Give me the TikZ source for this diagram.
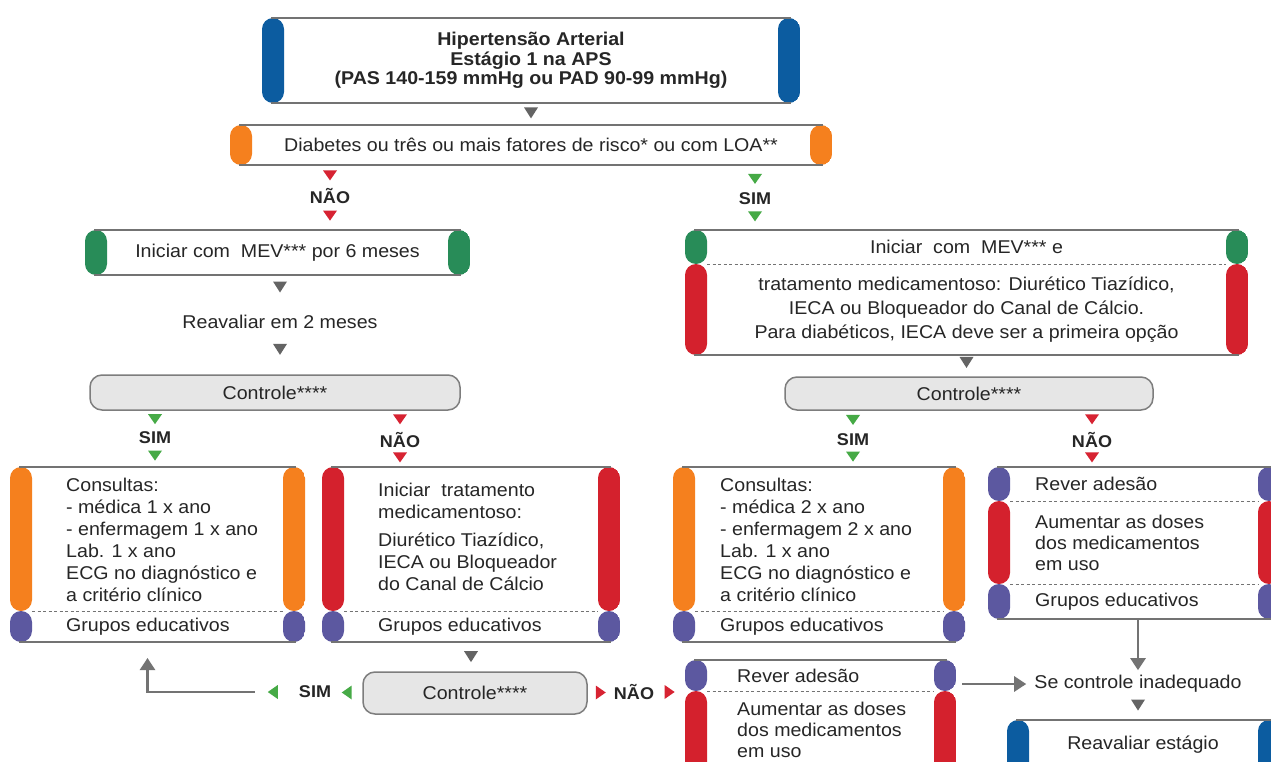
\documentclass[tikz,border=0pt]{standalone}
\usepackage{fontspec}
\setmainfont{Liberation Sans}[FakeStretch=1.06]
\usetikzlibrary{fit,arrows.meta,calc}

\definecolor{capBlue}{RGB}{12,92,160}
\definecolor{capOrange}{RGB}{245,128,30}
\definecolor{capGreen}{RGB}{40,140,88}
\definecolor{capRed}{RGB}{212,33,45}
\definecolor{capPurple}{RGB}{92,88,160}
\definecolor{triGreen}{RGB}{70,170,70}
\definecolor{triRed}{RGB}{215,35,50}
\definecolor{triGray}{RGB}{100,100,100}
\definecolor{rimC}{RGB}{115,115,115}
\definecolor{arrC}{RGB}{115,115,115}
\definecolor{ctlFill}{RGB}{230,230,230}
\definecolor{ctlLine}{RGB}{125,125,125}
\definecolor{txt}{RGB}{38,38,38}

\newcommand\fs{\fontsize{18.5}{22}\selectfont}
\newcommand\fsl{\fontsize{17}{19}\selectfont\bfseries}

% grey rim along the top of one segment and the bottom of another
\newcommand\rim[2]{%
  \draw[rimline] ([xshift=9pt]#1.north west) -- ([xshift=-9pt]#1.north east);
  \draw[rimline] ([xshift=9pt]#2.south west) -- ([xshift=-9pt]#2.south east);}
% dashed divider under a segment
\newcommand\divider[1]{%
  \draw[sepl] ([xshift=22pt]#1.south west) -- ([xshift=-22pt]#1.south east);}

\begin{document}
\begin{tikzpicture}[x=1pt,y=-1pt,
  seg/.style={rectangle, rounded corners=11pt, fill=white, inner sep=0pt,
    outer sep=0pt,
    path picture={
      \fill[#1] (path picture bounding box.south west) rectangle
        ([xshift=22pt]path picture bounding box.north west);
      \fill[#1] (path picture bounding box.south east) rectangle
        ([xshift=-22pt]path picture bounding box.north east);}},
  ctl/.style={rectangle, rounded corners=12pt, fill=ctlFill, draw=ctlLine,
    line width=1.5pt, inner sep=0pt},
  lab/.style={font=\fsl, text=txt, inner sep=0pt},
  body/.style={font=\fs, text=txt, inner sep=0pt, align=left, anchor=west},
  plain/.style={font=\fs, text=txt, inner sep=0pt, align=center},
  rimline/.style={draw=rimC, line width=1.8pt},
  sepl/.style={draw=rimC, line width=1pt, dash pattern=on 3pt off 2.5pt},
  garrow/.style={draw=arrC, line width=2.6pt, -{Triangle[width=15pt,length=12pt]}},
  gdown/.pic={\fill[triGray] (-7,-5.5) -- (7,-5.5) -- (0,5.5) -- cycle;},
  cdown/.pic={\fill[#1] (-7,-5) -- (7,-5) -- (0,5) -- cycle;},
  cleft/.pic={\fill[#1] (5,-7) -- (5,7) -- (-5,0) -- cycle;},
  cright/.pic={\fill[#1] (-5,-7) -- (-5,7) -- (5,0) -- cycle;},
]
\useasboundingbox (0,0) rectangle (1271,762);
\clip (0,0) rectangle (1271,762);
\fill[white] (0,0) rectangle (1271,762);

% ---------- boxes ----------
\node[seg=capBlue, fit={(262,18) (800,103)}] (top) {};
\node[plain, font=\fontsize{18.5}{19.5}\selectfont\bfseries] (topt) at (top.center)
  {Hipertensão Arterial\\Estágio 1 na APS\\(PAS 140-159 mmHg ou PAD 90-99 mmHg)};
\node[seg=capOrange, fit={(230,125) (832,165)}] (risk) {};
\node[plain] (riskt) at (risk.center)
  {Diabetes ou três ou mais fatores de risco* ou com LOA**};

\node[seg=capGreen, fit={(85,230) (470,275)}] (mev6) {};
\node[plain] (mev6t) at (mev6.center) {Iniciar com~ MEV*** por 6 meses};
\node[plain] (reav) at (280,322) {Reavaliar em 2 meses};
\node[ctl, fit={(90,375) (460,410)}] (ctl1) {};
\node[plain] (ctl1t) at (ctl1.center) {Controle****};

\node[seg=capGreen, fit={(685,230) (1248,264)}] (mevR1) {};
\node[plain] (mevR1t) at (mevR1.center) {Iniciar~ com~ MEV*** e};
\node[seg=capRed, fit={(685,264) (1248,355)}] (mevR2) {};
\node[plain, font=\fontsize{18.5}{24}\selectfont] (mevR2t) at (mevR2.center)
  {tratamento medicamentoso: Diurético Tiazídico,\\IECA ou Bloqueador do Canal de Cálcio.\\Para diabéticos, IECA deve ser a primeira opção};
\node[ctl, fit={(785,377) (1153,410)}] (ctl2) {};
\node[plain] (ctl2t) at (ctl2.center) {Controle****};

\node[seg=capOrange, fit={(10,467) (305,611)}] (consL1) {};
\node[seg=capPurple, fit={(10,611) (305,642)}] (consL2) {};
\node[body] (consLt) at (66,540)
  {Consultas:\\- médica 1 x ano\\- enfermagem 1 x ano\\Lab. 1 x ano\\ECG no diagnóstico e\\a critério clínico};
\node[body] (consLg) at (66,627) {Grupos educativos};

\node[seg=capRed, fit={(322,467) (620,611)}] (tratL1) {};
\node[seg=capPurple, fit={(322,611) (620,642)}] (tratL2) {};
\node[body] (tratLt) at (378,537)
  {Iniciar~ tratamento\\medicamentoso:\\[6pt]Diurético Tiazídico,\\IECA ou Bloqueador\\do Canal de Cálcio};
\node[body] (tratLg) at (378,627) {Grupos educativos};

\node[seg=capOrange, fit={(673,467) (965,611)}] (consR1) {};
\node[seg=capPurple, fit={(673,611) (965,642)}] (consR2) {};
\node[body] (consRt) at (720,540)
  {Consultas:\\- médica 2 x ano\\- enfermagem 2 x ano\\Lab. 1 x ano\\ECG no diagnóstico e\\a critério clínico};
\node[body] (consRg) at (720,627) {Grupos educativos};

\node[seg=capPurple, fit={(988,467) (1280,501)}] (revR1) {};
\node[seg=capRed, fit={(988,501) (1280,584)}] (revR2) {};
\node[seg=capPurple, fit={(988,584) (1280,619)}] (revR3) {};
\node[body] (revRt1) at (1035,484) {Rever adesão};
\node[body] (revRt2) at (1035,543) {Aumentar as doses\\[-1pt]dos medicamentos\\[-1pt]em uso};
\node[body] (revRt3) at (1035,602) {Grupos educativos};

\node[ctl, fit={(363,672) (587,714)}] (ctl3) {};
\node[plain] (ctl3t) at (ctl3.center) {Controle****};

\node[seg=capPurple, fit={(685,660) (956,691)}] (revB1) {};
\node[seg=capRed, fit={(685,691) (956,780)}] (revB2) {};
\node[body] (revBt1) at (737,676) {Rever adesão};
\node[body] (revBt2) at (737,730) {Aumentar as doses\\[-1pt]dos medicamentos\\[-1pt]em uso};

\node[plain] (sectl) at (1138,684) {Se controle inadequado};
\node[seg=capBlue, fit={(1007,720) (1280,780)}] (reavest) {};
\node[plain] (reavestt) at (1143,745) {Reavaliar estágio};

% rims and dividers
\rim{top}{top}
\rim{risk}{risk}
\rim{mev6}{mev6}
\rim{mevR1}{mevR2}\divider{mevR1}
\rim{consL1}{consL2}\divider{consL1}
\rim{tratL1}{tratL2}\divider{tratL1}
\rim{consR1}{consR2}\divider{consR1}
\rim{revR1}{revR3}\divider{revR1}\divider{revR2}
\rim{revB1}{revB2}\divider{revB1}
\rim{reavest}{reavest}

% ---------- decision labels ----------
\node[lab] (nao1) at (330,196) {NÃO};
\node[lab] (sim1) at (755,199) {SIM};
\node[lab] (sim2) at (155,438) {SIM};
\node[lab] (nao2) at (400,440) {NÃO};
\node[lab] (sim4) at (853,440) {SIM};
\node[lab] (nao4) at (1092,440) {NÃO};
\node[lab] (sim3) at (315,692) {SIM};
\node[lab] (nao3) at (634,692) {NÃO};

% ---------- connectors ----------
\path (top.south) -- coordinate[pos=.45] (c1) (top.south |- risk.north);
\pic at (c1) {gdown};

\path (risk.south -| nao1) -- coordinate[pos=.45] (c2) (nao1.north);
\path (nao1.south) -- coordinate[pos=.45] (c3) (mev6.north -| nao1);
\pic at (c2) {cdown=triRed}; \pic at (c3) {cdown=triRed};

\path (risk.south -| sim1) -- coordinate[pos=.5] (c4) (sim1.north);
\path (sim1.south) -- coordinate[pos=.45] (c5) (mevR1.north -| sim1);
\pic at (c4) {cdown=triGreen}; \pic at (c5) {cdown=triGreen};

\path (mev6.south -| reav) -- coordinate[pos=.3] (c6) (reav.north);
\pic at (c6) {gdown};
\path (reav.south) -- coordinate[pos=.45] (c7) (reav.south |- ctl1.north);
\pic at (c7) {gdown};

\path (ctl1.south -| sim2) -- coordinate[pos=.4] (c8) (sim2.north);
\path (sim2.south) -- coordinate[pos=.5] (c9) (consL1.north -| sim2);
\pic at (c8) {cdown=triGreen}; \pic at (c9) {cdown=triGreen};

\path (ctl1.south -| nao2) -- coordinate[pos=.4] (c10) (nao2.north);
\path (nao2.south) -- coordinate[pos=.5] (c11) (tratL1.north -| nao2);
\pic at (c10) {cdown=triRed}; \pic at (c11) {cdown=triRed};

\path (mevR2.south) -- coordinate[pos=.35] (c12) (mevR2.south |- ctl2.north);
\pic at (c12) {gdown};

\path (ctl2.south -| sim4) -- coordinate[pos=.4] (c13) (sim4.north);
\path (sim4.south) -- coordinate[pos=.5] (c14) (consR1.north -| sim4);
\pic at (c13) {cdown=triGreen}; \pic at (c14) {cdown=triGreen};

\path (ctl2.south -| nao4) -- coordinate[pos=.4] (c15) (nao4.north);
\path (nao4.south) -- coordinate[pos=.5] (c16) (revR1.north -| nao4);
\pic at (c15) {cdown=triRed}; \pic at (c16) {cdown=triRed};

\path (tratL2.south) -- coordinate[pos=.5] (c17) (tratL2.south |- ctl3.north);
\pic at (c17) {gdown};

% controle -> SIM -> back to the first branch
\path (ctl3.west) -- coordinate[pos=.5] (c18) (sim3.east);
\coordinate (c19) at ([xshift=-26pt]sim3.west);
\pic at (c18) {cleft=triGreen}; \pic at (c19) {cleft=triGreen};
\draw[garrow, shorten >=16pt] ([xshift=-44pt]sim3.west) -| ([xshift=-10pt]consL2.south);

% controle -> NAO -> revision box
\path (ctl3.east) -- coordinate[pos=.5] (c20) (nao3.west);
\path (nao3.east) -- coordinate[pos=.5] (c21) (nao3.east -| revB2.west);
\pic at (c20) {cright=triRed}; \pic at (c21) {cright=triRed};

\draw[garrow, shorten <=6pt, shorten >=8pt] (sectl.west -| revB1.east) -- (sectl.west);
\draw[garrow, shorten >=5pt] (revR3.south -| sectl) -- (sectl.north);

\path (sectl.south) -- coordinate[pos=.45] (c22) (sectl.south |- reavest.north);
\pic at (c22) {gdown};
\end{tikzpicture}
\end{document}
